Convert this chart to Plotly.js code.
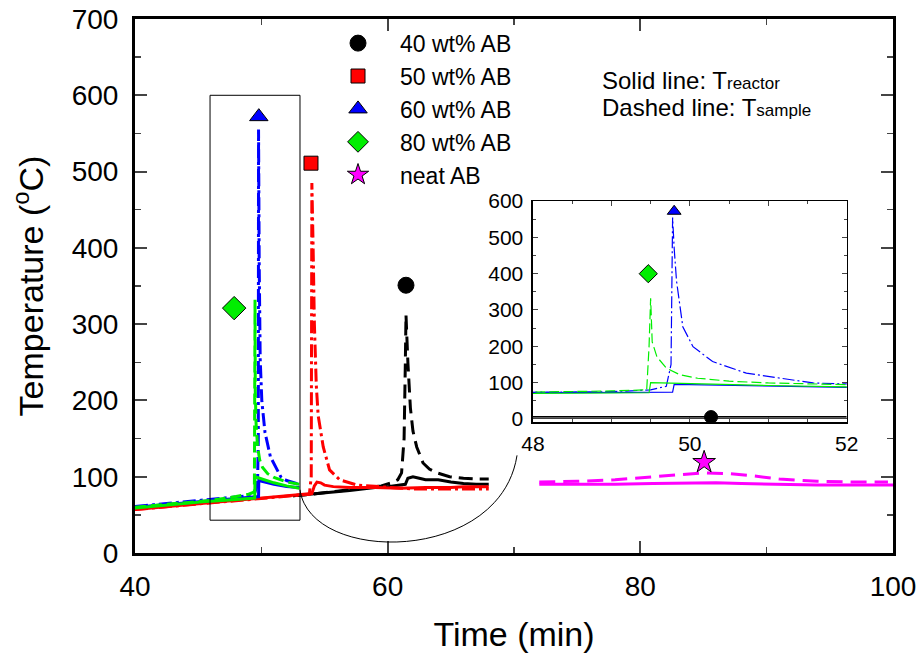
<!DOCTYPE html>
<html>
<head>
<meta charset="utf-8">
<script src="https://cdn.plot.ly/plotly-3.0.1.min.js"></script>
<style>html,body{margin:0;padding:0;background:#fff}#chart{width:923px;height:658px}</style>
</head>
<body>
<div id="chart"></div>
<script>
// ---------- data ----------
// 40 wt% AB (black)
const t40R = [52.5,54,55,56,57,58,59,60,61,61.4,61.6,62,62.5,63,64,64.5,65,65.5,66,67,68];
const T40R = [75,77,79,80,82,84,86,87,89,90,98,100,98,96,96,94,93,92,91,90,90];
const t40S = [52.5,54,56,58,59.5,60.3,60.8,61.1,61.3,61.4,61.45,61.6,61.8,62,62.3,62.8,63.3,63.9,64.9,66,67,68];
const T40S = [75,77,81,85,88,92,96,105,150,250,312,250,190,160,139,118,110,105,100,98,97,97];
const peak40 = {t:[61.45], T:[351]};
// inset copy of 40 wt% AB
const t40Inset = [48,49,50,51,52];
const T40InsetR = [6,6,6,6,6];
const T40InsetS = [2,2,2,2,2];
const peak40Inset = {t:[50.27], T:[5]};

// 50 wt% AB (red)
const t50R = [40,42,44,46,48,50,52,53.5,54.0,54.2,54.4,54.7,55,55.7,57,59,61,63,65,66,68];
const T50R = [57,60,63,66,69,72,75,77,78,88,93,92,89,87,86,86,85,86,86,87,87];
const t50S = [40,42,44,46,48,50,52,53.8,53.95,54.0,54.1,54.2,54.35,54.5,54.9,55.4,56.2,57.6,60.2,62,64,66,68];
const T50S = [57,60,63,66,69,72,75,77,100,485,400,300,220,180,139,109,96,89,86,84,84,84,84];
const peak50 = {t:[53.93], T:[511]};

// 60 wt% AB (blue)
const t60R = [40,42,44,46,48,49,49.78,49.8,50.5,51,52,53];
const T60R = [60,63,66,69,72,73,74,95,92,90,87,86];
const t60S = [40,42,44,46,48,49,49.5,49.7,49.76,49.78,49.8,49.83,49.91,50.04,50.29,50.72,51.57,52,53];
const T60S = [61,64,67,70,73,75,80,90,150,555,470,380,254,199,158,126,99,95,90];
const peak60 = {t:[49.8], T:[572]};

// 80 wt% AB (green)
const t80R = [40,42,44,46,48,49,49.48,49.5,50,51,52,53];
const T80R = [59,62,65,68,70,71,72,100,97,92,88,85];
const t80S = [40,42,44,46,48,49,49.45,49.48,49.5,49.52,49.58,49.7,49.87,50.1,50.5,51,52,53];
const T80S = [60,63,66,69,74,77,80,200,332,212,171,140,122,112,104,99,93,90];
const peak80 = {t:[47.85], T:[321]};
const peak80Inset = {t:[49.47], T:[400]};

// neat AB (magenta)
const tNeatR = [72,75,78,81,84,86,88,91,94,97,100];
const TNeatR = [90,90,90,91,92,92,91,90,89,89,89];
const tNeatS = [72,75,78,81,83,85,87,89,91,94,97,99.6];
const TNeatS = [93,94,96,100,103,105,104,101,97,94,93,93];
const peakNeat = {t:[85.05], T:[119]};

const names = ['40 wt% AB','50 wt% AB','60 wt% AB','80 wt% AB','neat AB'];
const colors = ['#000000','#ff0000','#0000ff','#00ee00','#ff00ff'];

// ---------- traces ----------
const FONT = 'Liberation Sans, Arial, sans-serif';
function line(x,y,color,dash,width,ax){
  return {x:x,y:y,type:'scatter',mode:'lines',showlegend:false,hoverinfo:'skip',
    line:{color:color,dash:dash,width:width},xaxis:ax?'x2':'x',yaxis:ax?'y2':'y'};
}
function mark(p,name,color,symbol,size,legend,ax){
  return {x:p.t,y:p.T,type:'scatter',mode:'markers',name:name,showlegend:legend,
    marker:{color:color,symbol:symbol,size:size,line:{color:'#000',width:1}},
    xaxis:ax?'x2':'x',yaxis:ax?'y2':'y'};
}
const W = 3, WI = 1.2;
const LDASH = '14px,7px', DDOT = '13px,4px,3px,4px', GDASH = '11px,5px';
const traces = [
  line(t40R,T40R,colors[0],'solid',W), line(t40S,T40S,colors[0],LDASH,W),
  line(t50R,T50R,colors[1],'solid',W), line(t50S,T50S,colors[1],DDOT,W),
  line(t60R,T60R,colors[2],'solid',W), line(t60S,T60S,colors[2],DDOT,W),
  line(t80R,T80R,colors[3],'solid',W), line(t80S,T80S,colors[3],GDASH,W),
  line(tNeatR,TNeatR,colors[4],'solid',W), line(tNeatS,TNeatS,colors[4],'16px,8px',W),
  // inset
  line(t40Inset,T40InsetR,colors[0],'solid',WI,true), line(t40Inset,T40InsetS,colors[0],'solid',WI,true),
  line(t60R,T60R,colors[2],'solid',WI,true), line(t60S,T60S,colors[2],'12px,3px,2px,3px',WI,true),
  line(t80R,T80R,colors[3],'solid',WI,true), line(t80S,T80S,colors[3],'10px,4px',WI,true),
  mark(peak40,names[0],colors[0],'circle',16,true),
  mark(peak50,names[1],colors[1],'square',14,true),
  mark(peak60,names[2],colors[2],'triangle-up',16,true),
  mark(peak80,names[3],colors[3],'diamond',18,true),
  mark(peakNeat,names[4],colors[4],'star',17,true),
  mark(peak40Inset,names[0],colors[0],'circle',13,false,true),
  mark(peak60,names[2],colors[2],'triangle-up',12,false,true),
  mark(peak80Inset,names[3],colors[3],'diamond',14,false,true)
];

const layout = {
  width:923, height:658,
  margin:{l:135,r:30,t:19,b:105},
  paper_bgcolor:'#fff', plot_bgcolor:'#fff',
  font:{family:FONT,color:'#000'},
  showlegend:true,
  legend:{x:0.2388,y:0.995,xanchor:'left',yanchor:'top',bgcolor:'rgba(0,0,0,0)',
    font:{size:23,family:FONT},itemwidth:74,tracegroupgap:0},
  xaxis:{range:[40,100],dtick:20,tick0:40,ticks:'inside',ticklen:12,tickwidth:2,
    showline:true,linewidth:3,linecolor:'#000',mirror:'allticks',showgrid:false,zeroline:false,
    tickfont:{size:28,family:FONT},ticklabelstandoff:6,
    minor:{dtick:10,ticks:'inside',ticklen:6,tickwidth:1.5,showgrid:false},
    title:{text:'Time (min)',font:{size:34,family:FONT},standoff:22}},
  yaxis:{range:[0,700],dtick:100,ticks:'inside',ticklen:12,tickwidth:2,
    showline:true,linewidth:3,linecolor:'#000',mirror:'allticks',showgrid:false,zeroline:false,
    tickfont:{size:28,family:FONT},ticklabelstandoff:8,
    minor:{dtick:50,ticks:'inside',ticklen:6,tickwidth:1.5,showgrid:false},
    title:{text:'Temperature (<sup>o</sup>C)',font:{size:34,family:FONT},standoff:18}},
  xaxis2:{domain:[0.525,0.939],anchor:'y2',range:[48,52],tickvals:[48,49,50,51,52],ticktext:['48','','50','','52'],
    ticks:'inside',ticklen:5,tickwidth:1,showline:true,linewidth:1.5,linecolor:'#000',mirror:'allticks',
    showgrid:false,zeroline:false,tickfont:{size:21,family:FONT},ticklabelstandoff:2,
    minor:{dtick:0.5,ticks:'inside',ticklen:3,tickwidth:1}},
  yaxis2:{domain:[0.245,0.659],anchor:'x2',range:[-9,600],dtick:100,tick0:0,
    ticks:'inside',ticklen:5,tickwidth:1,showline:true,linewidth:1.5,linecolor:'#000',mirror:'allticks',
    showgrid:false,zeroline:false,tickfont:{size:21,family:FONT},ticklabelstandoff:4,
    minor:{dtick:50,ticks:'inside',ticklen:3,tickwidth:1}},
  shapes:[
    {type:'rect',xref:'x',yref:'y',x0:45.94,x1:53.06,y0:43,y1:600,line:{color:'#000',width:1},layer:'above'},
    {type:'path',xref:'x',yref:'y',path:'M 53.06,83 C 53.85,-15 68.9,-15 70.24,128',line:{color:'#000',width:1}}
  ],
  annotations:[
    {xref:'paper',yref:'paper',x:0.613,y:0.884,xanchor:'left',yanchor:'middle',showarrow:false,
     text:'Solid line: T<span style="font-size:17px">reactor</span>',font:{size:24,family:FONT}},
    {xref:'paper',yref:'paper',x:0.613,y:0.835,xanchor:'left',yanchor:'middle',showarrow:false,
     text:'Dashed line: T<span style="font-size:17px">sample</span>',font:{size:24,family:FONT}}
  ]
};
Plotly.newPlot('chart',traces,layout,{displayModeBar:false,staticPlot:true});
</script>
</body>
</html>
